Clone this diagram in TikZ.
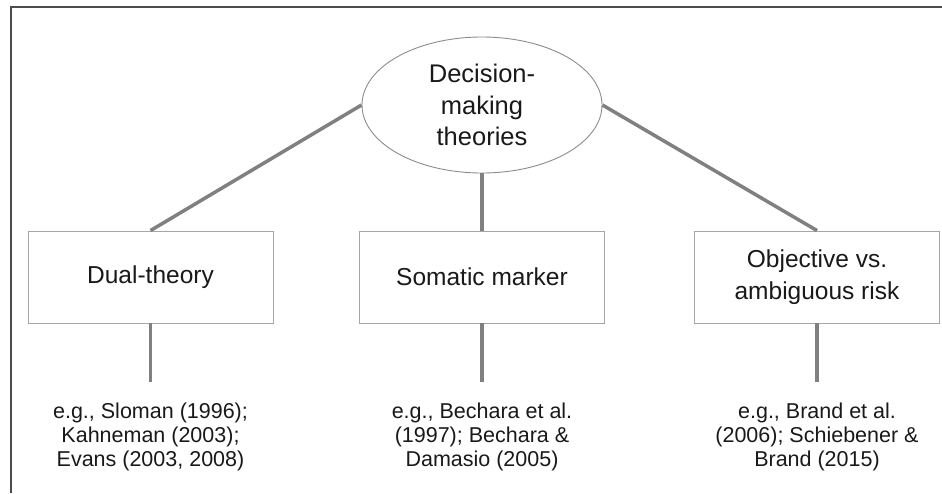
\documentclass[tikz,border=0pt]{standalone}
\usepackage{fontspec}
\setmainfont{Liberation Sans}
\usetikzlibrary{shapes.geometric}
\begin{document}
\begin{tikzpicture}[x=1pt,y=-1pt,
  link/.style={draw=black!50,line width=3.5pt},
  theorybox/.style={draw=black!35,line width=0.9pt,minimum width=245pt,minimum height=92pt,align=center,
    font=\fontsize{24.5}{31.5}\selectfont,text=black!90},
  refs/.style={align=center,font=\fontsize{21.5}{24.2}\selectfont,text=black!90},
  root/.style={ellipse,draw=black!45,line width=0.9pt,minimum width=240pt,minimum height=136pt,align=center,
    inner sep=0pt,font=\fontsize{25.5}{31.5}\selectfont,text=black!90}]
\useasboundingbox (0,0) rectangle (942,493);
% frame edges
\draw[black!70,line width=1.2pt] (11,493) -- (11,7) -- (942,7);
% root concept
\node[root] (root) at (482,105) {Decision-\\making\\theories};
% three theory boxes
\node[theorybox] (dual) at (150.5,277) {Dual-theory};
\node[theorybox] (soma) at (482,277) {Somatic marker};
\node[theorybox] (risk) at (817,277) {Objective vs.\\ambiguous risk};
% reference lines
\node[refs] (rdual) at (150.5,437) {e.g., Sloman (1996);\\Kahneman (2003);\\Evans (2003, 2008)};
\node[refs] (rsoma) at (482,437) {e.g., Bechara et al.\\(1997); Bechara \&\\Damasio (2005)};
\node[refs] (rrisk) at (817,437) {e.g., Brand et al.\\(2006); Schiebener \&\\Brand (2015)};
% connectors
\draw[link] (root.west) -- (dual.north);
\draw[link] (root.south) -- (soma.north);
\draw[link] (root.east) -- (risk.north);
\coordinate (edual) at (150.5,382);
\coordinate (esoma) at (482,382);
\coordinate (erisk) at (817,382);
\draw[link] (dual.south) -- (edual);
\draw[link] (soma.south) -- (esoma);
\draw[link] (risk.south) -- (erisk);
\end{tikzpicture}
\end{document}
